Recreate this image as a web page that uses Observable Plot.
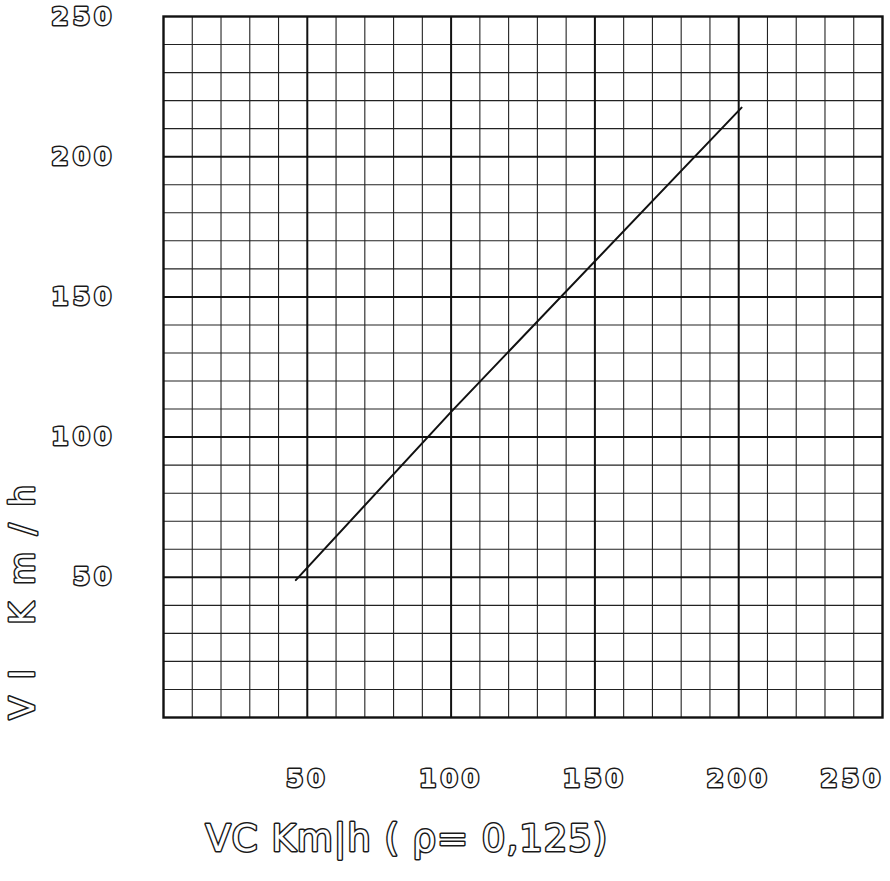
<!DOCTYPE html>
<html><head><meta charset="utf-8">
<script src="https://cdn.jsdelivr.net/npm/d3@7"></script>
<script src="https://cdn.jsdelivr.net/npm/@observablehq/plot@0.6"></script>
<style>
body{margin:0;background:#fff;}
#chart svg{background:#fff;}
g[aria-label="y-axis tick label"] text, g[aria-label="x-axis tick label"] text{letter-spacing:4px;}
.ytitle text{letter-spacing:17px;}
.xtitle text{letter-spacing:1px;}
</style></head><body><div id="chart"></div>
<script>
// Data
const vc = [46, 100, 201];
const vi = [49, 109, 217.5];
const xTicks = [50, 100, 150, 200];
const xLastTick = [250];
const yTicks = [50, 100, 150, 200, 250];
const minorGrid = [10,20,30,40,60,70,80,90,110,120,130,140,160,170,180,190,210,220,230,240];
const majorGrid = [50,100,150,200];
const xTitle = "VC Km|h ( ρ= 0,125)";
const yTitle = "VI Km/h";

const data = vc.map((x, i) => ({vc: x, vi: vi[i]}));
const hand = {fill: "white", textStroke: "#1a1a1a", textStrokeWidth: 3, fontFamily: "DejaVu Sans", fontWeight: "bold"};

const chart = Plot.plot({
  width: 890,
  height: 881,
  marginLeft: 163,
  marginRight: 8,
  marginTop: 16,
  marginBottom: 164,
  style: {background: "#fff", color: "#111"},
  x: {domain: [0, 250]},
  y: {domain: [0, 250]},
  marks: [
    Plot.ruleX(minorGrid, {stroke: "#222", strokeWidth: 1.1}),
    Plot.ruleY(minorGrid, {stroke: "#222", strokeWidth: 1.1}),
    Plot.ruleX(majorGrid, {stroke: "#111", strokeWidth: 2}),
    Plot.ruleY(majorGrid, {stroke: "#111", strokeWidth: 2}),
    Plot.frame({stroke: "#111", strokeWidth: 2.4}),
    Plot.line(data, {x: "vc", y: "vi", stroke: "#111", strokeWidth: 2}),
    Plot.axisY(yTicks, {anchor: "left", tickSize: 0, tickPadding: 48, fontSize: 25, label: null, ...hand}),
    Plot.axisX(xTicks, {anchor: "bottom", tickSize: 0, tickPadding: 52, fontSize: 25, label: null, ...hand}),
    Plot.axisX(xLastTick, {anchor: "bottom", tickSize: 0, tickPadding: 52, fontSize: 25, label: null, textAnchor: "end", dx: 2, ...hand}),
    Plot.text([yTitle], {frameAnchor: "bottom-left", rotate: -90, textAnchor: "start", dx: -130, dy: 2, fontSize: 34, className: "ytitle", fill: "white", stroke: "#1a1a1a", strokeWidth: 3, fontFamily: "DejaVu Sans"}),
    Plot.text([xTitle], {frameAnchor: "bottom-left", textAnchor: "start", dx: 42, dy: 133, fontSize: 37, className: "xtitle", fill: "white", stroke: "#1a1a1a", strokeWidth: 3, fontFamily: "DejaVu Sans"})
  ]
});
document.getElementById("chart").appendChild(chart);
</script>
</body></html>
